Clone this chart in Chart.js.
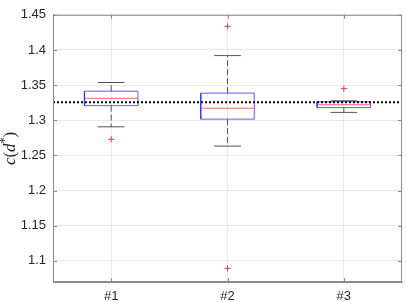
<!DOCTYPE html>
<html lang="en">
  <head>
    <meta charset="UTF-8" />
    <title>Boxplot c(d*)</title>
    <style>
      body {
        margin: 0;
        background: #fff;
      }
      #wrap {
        width: 407px;
        height: 302px;
      }
    </style>
  </head>
  <body>
    <div id="wrap"><canvas id="boxChart" width="407" height="302"></canvas></div>

    <script src="https://cdn.jsdelivr.net/npm/chart.js"></script>
    <script>
      // data
      const categories = ["#1", "#2", "#3"];
      const q1 = [1.3208, 1.3016, 1.318];
      const q3 = [1.3414, 1.3386, 1.3263];
      const medians = [1.3312, 1.3171, 1.3222];
      const whiskerLow = [1.2907, 1.2633, 1.3112];
      const whiskerHigh = [1.3537, 1.392, 1.3277];
      const outliers = [[1.2729], [1.4336, 1.0893], [1.345]];
      const refValue = 1.3255;
      const yTicks = [1.1, 1.15, 1.2, 1.25, 1.3, 1.35, 1.4, 1.45];

      const boxHalf = 0.23;
      const capHalf = 0.115;

      // build line segments separated by gaps
      function segments(list) {
        const out = [];
        list.forEach((seg) => {
          seg.forEach((p) => out.push(p));
          out.push({ x: seg[0].x, y: null });
        });
        return out;
      }

      const boxPts = segments(
        categories.map((c, i) => {
          const x = i + 1;
          return [
            { x: x - boxHalf, y: q1[i] },
            { x: x + boxHalf, y: q1[i] },
            { x: x + boxHalf, y: q3[i] },
            { x: x - boxHalf, y: q3[i] },
            { x: x - boxHalf, y: q1[i] },
          ];
        })
      );
      const medianPts = segments(
        categories.map((c, i) => [
          { x: i + 1 - boxHalf, y: medians[i] },
          { x: i + 1 + boxHalf, y: medians[i] },
        ])
      );
      const whiskerPts = segments(
        categories.flatMap((c, i) => [
          [
            { x: i + 1, y: q3[i] },
            { x: i + 1, y: whiskerHigh[i] },
          ],
          [
            { x: i + 1, y: q1[i] },
            { x: i + 1, y: whiskerLow[i] },
          ],
        ])
      );
      const capPts = segments(
        categories.flatMap((c, i) => [
          [
            { x: i + 1 - capHalf, y: whiskerHigh[i] },
            { x: i + 1 + capHalf, y: whiskerHigh[i] },
          ],
          [
            { x: i + 1 - capHalf, y: whiskerLow[i] },
            { x: i + 1 + capHalf, y: whiskerLow[i] },
          ],
        ])
      );
      const outlierPts = outliers.flatMap((list, i) =>
        list.map((v) => ({ x: i + 1, y: v }))
      );

      function lineSet(data, color, width, dash) {
        return {
          type: "line",
          data: data,
          borderColor: color,
          borderWidth: width,
          borderDash: dash || [],
          pointRadius: 0,
          tension: 0,
          spanGaps: false,
          fill: false,
        };
      }

      // frame + inner ticks like matlab axes
      const framePlugin = {
        id: "frame",
        afterDraw(chart) {
          const { ctx, chartArea: a, scales } = chart;
          ctx.save();
          ctx.strokeStyle = "#8a8a8a";
          ctx.lineWidth = 1;
          ctx.strokeRect(a.left + 0.5, a.top + 0.5, a.right - a.left - 1, a.bottom - a.top - 1);
          ctx.beginPath();
          yTicks.forEach((v) => {
            const y = Math.round(scales.y.getPixelForValue(v)) + 0.5;
            ctx.moveTo(a.left, y);
            ctx.lineTo(a.left + 4, y);
            ctx.moveTo(a.right, y);
            ctx.lineTo(a.right - 4, y);
          });
          categories.forEach((c, i) => {
            const x = Math.round(scales.x.getPixelForValue(i + 1)) + 0.5;
            ctx.moveTo(x, a.bottom);
            ctx.lineTo(x, a.bottom - 4);
            ctx.moveTo(x, a.top);
            ctx.lineTo(x, a.top + 4);
          });
          ctx.stroke();
          ctx.restore();
        },
      };

      // y label c(d*) with italic letters and superscript star
      const yLabelPlugin = {
        id: "ylabel",
        afterDraw(chart) {
          const { ctx, chartArea: a } = chart;
          const parts = [
            { t: "c", f: "italic 17px 'Liberation Serif'", dy: 0 },
            { t: "(", f: "17px 'Liberation Serif'", dy: 0 },
            { t: "d", f: "italic 17px 'Liberation Serif'", dy: 0 },
            { t: "*", f: "12px 'Liberation Serif'", dy: -7 },
            { t: ")", f: "17px 'Liberation Serif'", dy: 0 },
          ];
          ctx.save();
          let total = 0;
          parts.forEach((p) => {
            ctx.font = p.f;
            p.w = ctx.measureText(p.t).width;
            total += p.w;
          });
          ctx.translate(15, (a.top + a.bottom) / 2);
          ctx.rotate(-Math.PI / 2);
          ctx.fillStyle = "#262626";
          ctx.textBaseline = "alphabetic";
          let x = -total / 2;
          parts.forEach((p) => {
            ctx.font = p.f;
            ctx.fillText(p.t, x, p.dy);
            x += p.w;
          });
          ctx.restore();
        },
      };

      const ctx = document.getElementById("boxChart").getContext("2d");
      new Chart(ctx, {
        type: "line",
        data: {
          datasets: [
            lineSet(
              [
                { x: 0.5, y: refValue },
                { x: 3.5, y: refValue },
              ],
              "#000000",
              2,
              [2, 2]
            ),
            {
              type: "scatter",
              data: outlierPts,
              pointStyle: "cross",
              pointRadius: 3,
              borderColor: "#ff2a2a",
              borderWidth: 1,
              showLine: false,
            },
            lineSet(medianPts, "rgba(255,0,0,0.6)", 1),
            lineSet(boxPts, "rgba(40,40,255,0.75)", 1),
            lineSet(capPts, "#555555", 1),
            lineSet(whiskerPts, "#555555", 1, [6, 3]),
          ],
        },
        options: {
          responsive: false,
          animation: false,
          devicePixelRatio: 1,
          layout: { padding: { left: 0, right: 4, top: 5, bottom: 0 } },
          plugins: {
            legend: { display: false },
            tooltip: { enabled: false },
          },
          scales: {
            x: {
              type: "linear",
              min: 0.5,
              max: 3.5,
              afterBuildTicks: (scale) => {
                scale.ticks = categories.map((c, i) => ({ value: i + 1 }));
              },
              afterFit: (scale) => {
                scale.height = 20;
              },
              ticks: {
                padding: 7,
                color: "#262626",
                font: { family: "'Liberation Sans'", size: 13 },
                callback: (v) => categories[v - 1],
              },
              grid: { color: "#e8e8e8", drawTicks: false },
              border: { color: "#8a8a8a" },
            },
            y: {
              min: 1.07,
              max: 1.45,
              afterBuildTicks: (scale) => {
                scale.ticks = yTicks.map((v) => ({ value: v }));
              },
              afterFit: (scale) => {
                scale.width = 53;
              },
              ticks: {
                padding: 7,
                color: "#262626",
                font: { family: "'Liberation Sans'", size: 13 },
                callback: (v) => String(+v.toFixed(2)),
              },
              grid: { color: "#e8e8e8", drawTicks: false },
              border: { color: "#8a8a8a" },
            },
          },
        },
        plugins: [framePlugin, yLabelPlugin],
      });
    </script>
  </body>
</html>
